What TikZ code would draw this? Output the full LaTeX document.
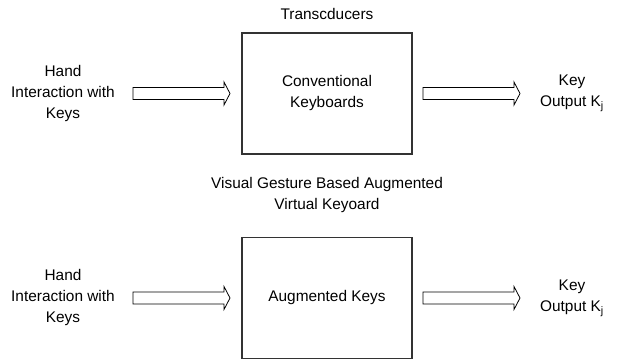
\documentclass[tikz,border=0pt]{standalone}
\usepackage{fontspec}
\setmainfont{Liberation Sans}
\begin{document}
\begin{tikzpicture}[x=1pt,y=-1pt,
  lbl/.style={align=center,font=\fontsize{15.4}{21}\selectfont,inner sep=0pt},
  block/.style={draw=black!80,line width=1.3pt,minimum width=170pt,minimum height=121pt,inner sep=0pt},
  flow/.pic={\draw[black,line width=0.8pt,line join=miter,fill=white]
      (0,-6) -- (91,-6) -- (91,-11.5) -- (97,0) -- (91,11.5) -- (91,6) -- (0,6) -- cycle;}]
\useasboundingbox (0,0) rectangle (619,360);
% top row: conventional keyboard
\node[lbl] (title1) at (327,14) {Transcducers};
\node[block] (kb) at (327,93.5) {};
\node[lbl] (kbtext) at (kb.center) {Conventional\\Keyboards};
\node[lbl] (in1) at (63,94) {Hand\\Interaction with\\Keys};
\node[lbl] (out1) at (572,93) {Key\\Output K\textsubscript{j}};
\pic at (133,93.5) {flow};
\pic at (423,93.5) {flow};
% bottom row: augmented virtual keyboard
\node[lbl] (title2) at (327,195) {Visual Gesture Based Augmented\\Virtual Keyoard};
\node[block] (ak) at (327,298) {};
\node[lbl] (aktext) at (ak.center) {Augmented Keys};
\node[lbl] (in2) at (63,298) {Hand\\Interaction with\\Keys};
\node[lbl] (out2) at (572,298) {Key\\Output K\textsubscript{j}};
\pic at (133,298) {flow};
\pic at (423,298) {flow};
\end{tikzpicture}
\end{document}
